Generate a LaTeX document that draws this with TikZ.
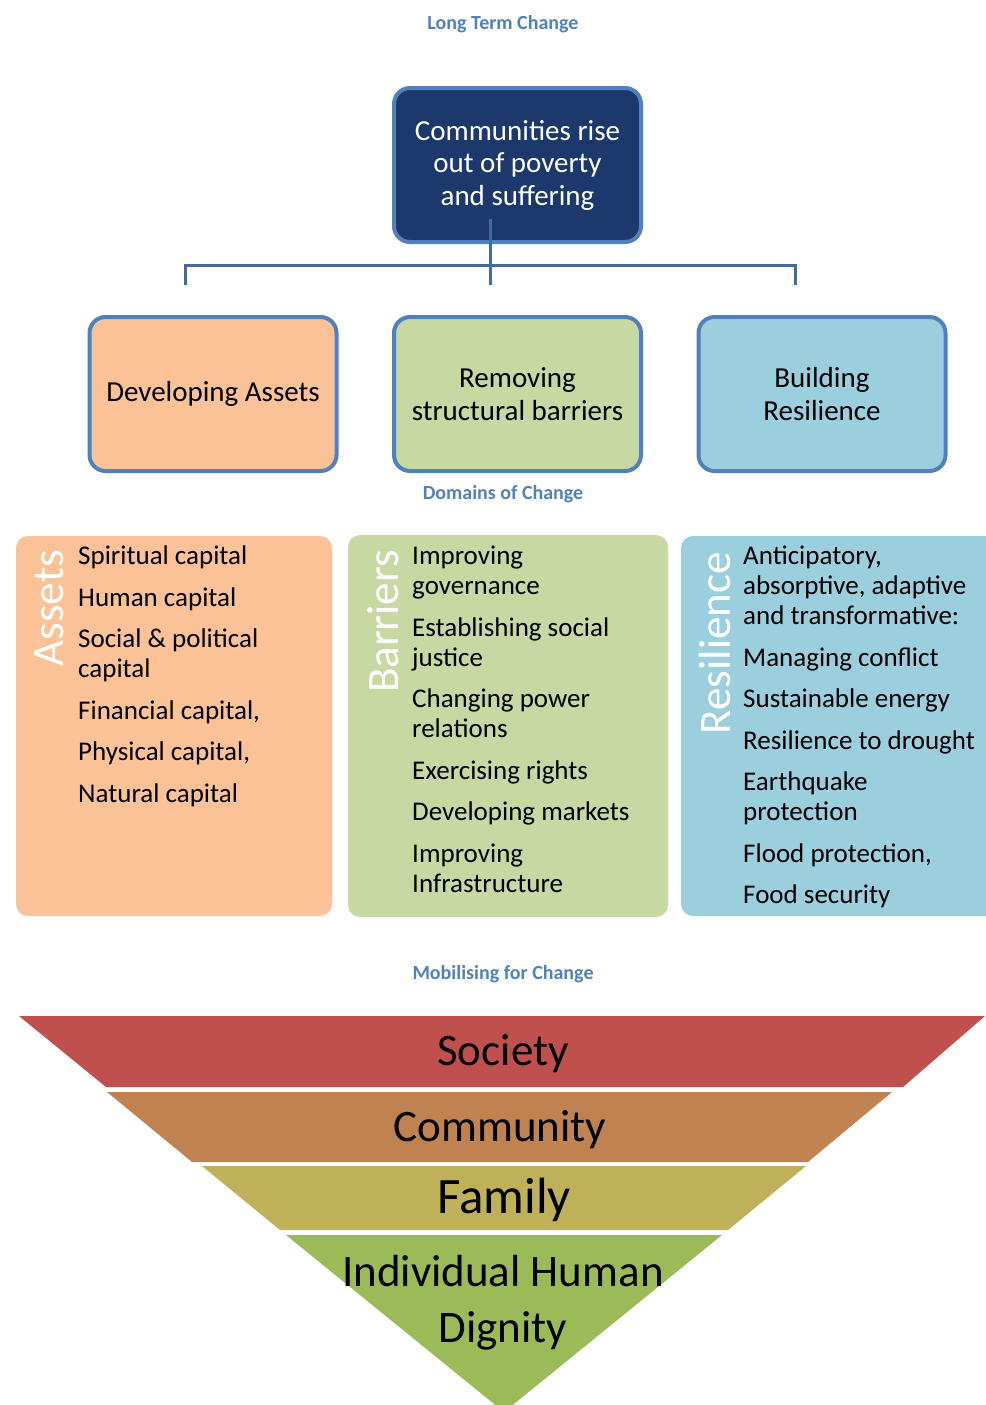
\documentclass[tikz,border=0pt]{standalone}
\usepackage{fontspec}
\setmainfont{Carlito}
\usepackage{tikz}
\usetikzlibrary{positioning, calc}
\definecolor{frameblue}{RGB}{79,129,189}
\definecolor{goalnavy}{RGB}{29,56,108}
\definecolor{treeblue}{RGB}{68,105,155}
\definecolor{assetorange}{RGB}{250,194,150}
\definecolor{barriergreen}{RGB}{199,216,163}
\definecolor{resilblue}{RGB}{156,207,222}
\definecolor{societyred}{RGB}{192,80,77}
\definecolor{communitybrown}{RGB}{191,130,80}
\definecolor{familyolive}{RGB}{191,177,89}
\definecolor{dignitygreen}{RGB}{155,187,89}

\begin{document}
\begin{tikzpicture}[x=1pt, y=1pt,
    goalbox/.style={rectangle, draw=frameblue, line width=4pt, rounded corners=16pt, fill=goalnavy, text=white, minimum width=247pt, minimum height=154pt, align=center, font=\fontsize{29}{32.5}\selectfont},
    domainbox/.style={goalbox, text=black},
    panel/.style={rectangle, rounded corners=12pt, minimum height=380pt, inner sep=0pt},
    sidelabel/.style={rotate=90, anchor=base east, inner sep=0pt, text=white, font=\fontsize{45}{45}\selectfont},
    itemlist/.style={anchor=north west, align=left, inner sep=0pt, font=\fontsize{27}{30}\selectfont},
    heading/.style={text=frameblue, font=\bfseries\fontsize{20}{24}\selectfont},
    treeline/.style={draw=treeblue, line width=3pt},
    tierlabel/.style={align=center, font=\fontsize{45}{56}\selectfont}]
    \useasboundingbox (0,0) rectangle (985,-1405);

    % Long term change
    \node[heading] (longterm) at (503,-24) {Long Term Change};
    \node[goalbox] (goal) at (517.5,-165) {Communities rise\\out of poverty\\and suffering};

    % Domains of change
    \node[domainbox, fill=assetorange] (assets) at (213,-394) {Developing Assets};
    \node[domainbox, fill=barriergreen] (barriers) at (517.5,-394) {Removing\\structural barriers};
    \node[domainbox, fill=resilblue] (resilience) at (822,-394) {Building\\Resilience};
    \node[heading] (domains) at (503,-494) {Domains of Change};

    % Tree from goal to domains
    \coordinate (stem) at (490,-219);
    \coordinate (split) at (490,-265);
    \coordinate (dropA) at (185,-285);
    \coordinate (dropB) at (490,-285);
    \coordinate (dropC) at (795,-285);
    \draw[treeline] (stem) -- (dropB);
    \draw[treeline] (dropA) |- (split) -| (dropC);

    % Panels
    \node[panel, fill=assetorange, minimum width=316pt] (assetpanel) at (174,-726) {};
    \node[panel, fill=barriergreen, minimum width=320pt, minimum height=382pt] (barrierpanel) at (508,-726) {};
    \node[panel, fill=resilblue, minimum width=324pt] (resilpanel) at (843,-726) {};

    \node[sidelabel] (assetside) at (63,-550) {Assets};
    \node[sidelabel] (barrierside) at (398,-550) {Barriers};
    \node[sidelabel] (resilside) at (730,-552) {Resilience};

    \node[itemlist] (assetitems) at (78,-546) {Spiritual capital\\[11.5pt] Human capital\\[11.5pt] Social \& political\\capital\\[11.5pt] Financial capital,\\[11.5pt] Physical capital,\\[11.5pt] Natural capital};
    \node[itemlist] (barrieritems) at (412,-546) {Improving\\governance\\[11.5pt] Establishing social\\justice\\[11.5pt] Changing power\\relations\\[11.5pt] Exercising rights\\[11.5pt] Developing markets\\[11.5pt] Improving\\Infrastructure};
    \node[itemlist] (resilitems) at (743,-546) {Anticipatory,\\absorptive, adaptive\\and transformative:\\[11.5pt] Managing conflict\\[11.5pt] Sustainable energy\\[11.5pt] Resilience to drought\\[11.5pt] Earthquake\\protection\\[11.5pt] Flood protection,\\[11.5pt] Food security};

    % Mobilising for change
    \node[heading] (mobilising) at (503,-974) {Mobilising for Change};
    \fill[societyred] (19,-1016) -- (985,-1016) -- (903,-1087) -- (106,-1087) -- cycle;
    \fill[communitybrown] (107,-1092) -- (892,-1092) -- (808,-1162) -- (192,-1162) -- cycle;
    \fill[familyolive] (202,-1166) -- (806,-1166) -- (728,-1230) -- (280,-1230) -- cycle;
    \fill[dignitygreen] (286,-1235) -- (722,-1235) -- (504,-1412) -- cycle;
    \node[tierlabel] (society) at (503,-1054) {Society};
    \node[tierlabel] (community) at (500,-1130) {Community};
    \node[tierlabel, font=\fontsize{51}{56}\selectfont] (family) at (504,-1200) {Family};
    \node[tierlabel] (dignity) at (503,-1303) {Individual Human\\Dignity};
\end{tikzpicture}
\end{document}
